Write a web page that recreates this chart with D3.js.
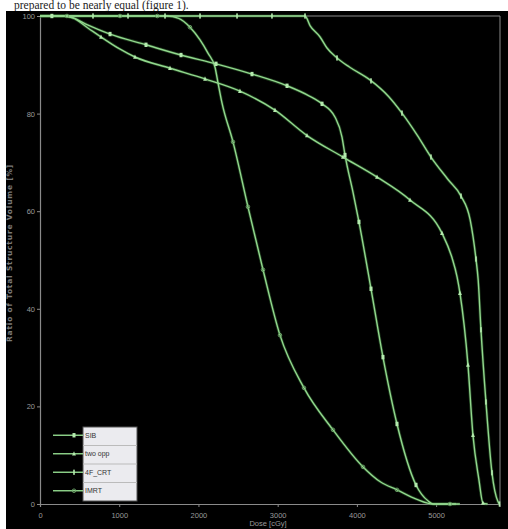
<!DOCTYPE html>
<html>
<head>
<meta charset="utf-8">
<script src="https://cdn.jsdelivr.net/npm/d3@7"></script>
<style>
  html, body { margin: 0; padding: 0; background: #fff; }
  svg { display: block; }
</style>
</head>
<body>
<script>
// ---------- data ----------
const seriesNames = ["SIB", "two opp", "4F_CRT", "IMRT"];
const markerShapes = ["square", "triangle", "bar", "circle"];

const xTicks = [0, 1000, 2000, 3000, 4000, 5000];
const yTicks = [0, 20, 40, 60, 80, 100];

// curve vertices [dose cGy, volume %]
const sibCurve = [[0,100],[300,100],[417,99.6],[600,98.2],[884,96.3],[1338,94.1],[1780,92.0],[2222,90.2],[2676,88.1],[3118,85.7],[3400,83.6],[3560,82.0],[3723,79.3],[3812,75.2],[3850,71.5],[3953,63.7],[4026,57.8],[4178,44.1],[4329,30.1],[4506,16.4],[4746,3.9],[4900,0.6],[4964,0],[5250,0]];
const twoOppCurve = [[0,100],[300,100],[417,99.6],[600,97.6],[770,95.7],[1000,93.3],[1199,91.6],[1641,89.3],[2083,87.1],[2524,84.6],[2966,80.7],[3370,75.5],[3824,71.1],[4254,67.0],[4670,62.3],[5074,55.5],[5200,50.5],[5265,46.5],[5301,43.2],[5402,28.5],[5465,14.1],[5540,5.0],[5591,0.2],[5650,0]];
const crtCurve = [[0,100],[3345,100],[3410,98.0],[3535,95.7],[3620,93.5],[3749,91.4],[3910,89.5],[4165,86.9],[4400,83.5],[4569,80.1],[4761,75.6],[4935,71.1],[5150,66.5],[5314,63.1],[5430,58.2],[5503,50.2],[5531,45.9],[5566,35.7],[5629,20.9],[5705,6.4],[5780,0.5],[5800,0]];
const imrtCurve = [[0,100],[1600,100],[1750,99.5],[1893,97.7],[2020,95.1],[2120,92.4],[2209,89.5],[2247,86.3],[2297,82.2],[2436,74.2],[2625,60.9],[2815,48.0],[3029,34.6],[3332,23.8],[3698,15.2],[4077,7.6],[4300,4.5],[4506,2.9],[4750,1.0],[4964,0],[5300,0]];

// marker positions [dose, volume]
const sibMarkers = [[150,100],[884,96.3],[1338,94.1],[1780,92.0],[2222,90.2],[2676,88.1],[3118,85.7],[3560,82.0],[3850,71.5],[4026,57.8],[4178,44.1],[4329,30.1],[4506,16.4],[4746,3.9]];
const twoOppMarkers = [[770,95.7],[1199,91.6],[1641,89.3],[2083,87.1],[2524,84.6],[2966,80.7],[3370,75.5],[3824,71.1],[4254,67.0],[4670,62.3],[5074,55.5],[5301,43.2],[5402,28.5],[5465,14.1],[5591,0.2]];
const crtMarkers = [[669,100],[1111,100],[1578,100],[2020,100],[2487,100],[2928,100],[3345,100],[3749,91.4],[4178,86.7],[4569,80.1],[4935,71.1],[5314,63.1],[5503,50.2],[5566,35.7],[5629,20.9],[5705,6.4],[5800,0]];
const imrtMarkers = [[340,100],[1010,100],[1480,100],[1893,97.7],[2436,74.2],[2625,60.9],[2815,48.0],[3029,34.6],[3332,23.8],[3698,15.2],[4077,7.6],[4506,2.9],[5175,0]];

const curves = [sibCurve, twoOppCurve, crtCurve, imrtCurve];
const markers = [sibMarkers, twoOppMarkers, crtMarkers, imrtMarkers];

// ---------- drawing ----------
const W = 508, H = 529;
const lineColor = "#92d88e";
const markColor = "#b4eaae";
const axisColor = "#8a8a8a";

const svg = d3.select("body").append("svg").attr("width", W).attr("height", H);

// page strip with caption text
svg.append("rect").attr("x", 0).attr("y", 0).attr("width", W).attr("height", H).attr("fill", "#fff");
svg.append("text").attr("x", 14).attr("y", 9)
  .attr("font-family", "Liberation Serif, serif").attr("font-size", 11.5).attr("fill", "#222")
  .text("prepared to be nearly equal (figure 1).");
svg.append("rect").attr("x", 6).attr("y", 11).attr("width", W - 6).attr("height", H - 11).attr("fill", "#000");

const x = d3.scaleLinear().domain([0, 5800]).range([40, 499.5]);
const y = d3.scaleLinear().domain([0, 100]).range([504, 16]);

// frame (top and right)
svg.append("line").attr("x1", 40).attr("x2", 500).attr("y1", 16).attr("y2", 16).attr("stroke", axisColor).attr("stroke-width", 1);
svg.append("line").attr("x1", 500).attr("x2", 500).attr("y1", 16).attr("y2", 504).attr("stroke", axisColor).attr("stroke-width", 1);

// axes
const xAxis = d3.axisBottom(x).tickValues(xTicks).tickSize(3).tickPadding(6).tickFormat(d3.format("d"));
const yAxis = d3.axisLeft(y).tickValues(yTicks).tickSize(3).tickPadding(2).tickFormat(d3.format("d"));

const gx = svg.append("g").attr("transform", "translate(0,504)").call(xAxis);
const gy = svg.append("g").attr("transform", "translate(40,0)").call(yAxis);
[gx, gy].forEach(g => {
  g.select(".domain").attr("stroke", axisColor).attr("stroke-width", 1.2);
  g.selectAll(".tick line").attr("stroke", axisColor);
  g.selectAll(".tick text").attr("fill", "#9a9a9a").attr("font-family", "Liberation Sans, Arial, sans-serif").attr("font-size", 7.5);
});

// axis titles
svg.append("text").attr("transform", "translate(12,253) rotate(-90)")
  .attr("text-anchor", "middle").attr("fill", "#7a7a7a")
  .attr("font-family", "DejaVu Sans, sans-serif").attr("font-size", 7.5).attr("font-weight", "bold")
  .attr("letter-spacing", 0.8)
  .text("Ratio of Total Structure Volume [%]");
svg.append("text").attr("x", 268).attr("y", 526)
  .attr("text-anchor", "middle").attr("fill", "#9a9a9a")
  .attr("font-family", "Liberation Sans, Arial, sans-serif").attr("font-size", 7.5)
  .text("Dose [cGy]");

// lines
const line = d3.line().x(d => x(d[0])).y(d => y(d[1])).curve(d3.curveMonotoneX);
const plot = svg.append("g");
curves.forEach(c => {
  plot.append("path").attr("d", line(c)).attr("fill", "none")
    .attr("stroke", "#3f7a3c").attr("stroke-opacity", 0.45).attr("stroke-width", 3);
});
curves.forEach(c => {
  plot.append("path").attr("d", line(c)).attr("fill", "none")
    .attr("stroke", lineColor).attr("stroke-width", 1.4);
});

function drawMarker(g, shape, cx, cy) {
  if (shape === "square") {
    g.append("rect").attr("x", cx - 1.5).attr("y", cy - 2.2).attr("width", 3).attr("height", 4.4).attr("fill", markColor);
  } else if (shape === "triangle") {
    g.append("path").attr("d", `M${cx},${cy - 2.6}L${cx + 1.9},${cy + 1.8}L${cx - 1.9},${cy + 1.8}Z`).attr("fill", markColor);
  } else if (shape === "bar") {
    g.append("rect").attr("x", cx - 0.8).attr("y", cy - 2.6).attr("width", 1.6).attr("height", 5.2).attr("fill", markColor);
  } else {
    g.append("circle").attr("cx", cx).attr("cy", cy).attr("r", 1.8).attr("fill", "none").attr("stroke", "#6fa86b").attr("stroke-width", 0.9);
  }
}

markers.forEach((ms, i) => {
  ms.forEach(m => drawMarker(plot, markerShapes[i], x(m[0]), y(m[1])));
});

// legend
const lg = svg.append("g");
const lx = 83, ly = 427, lw = 54, rowH = 18.5;
lg.append("rect").attr("x", lx).attr("y", ly).attr("width", lw).attr("height", rowH * 4)
  .attr("fill", "#ebebef").attr("stroke", "#555").attr("stroke-width", 1);
seriesNames.forEach((name, i) => {
  const cy = ly + rowH * i + rowH / 2 - 1;
  if (i > 0) {
    lg.append("line").attr("x1", lx).attr("x2", lx + lw).attr("y1", ly + rowH * i).attr("y2", ly + rowH * i)
      .attr("stroke", "#bbb").attr("stroke-width", 1);
  }
  lg.append("line").attr("x1", 53).attr("x2", lx).attr("y1", cy).attr("y2", cy)
    .attr("stroke", lineColor).attr("stroke-width", 1.4);
  drawMarker(lg, markerShapes[i], 74, cy);
  lg.append("text").attr("x", lx + 2).attr("y", cy + 2.5)
    .attr("fill", "#333").attr("font-family", "Liberation Sans, Arial, sans-serif").attr("font-size", 7)
    .text(name);
});
</script>
</body>
</html>
